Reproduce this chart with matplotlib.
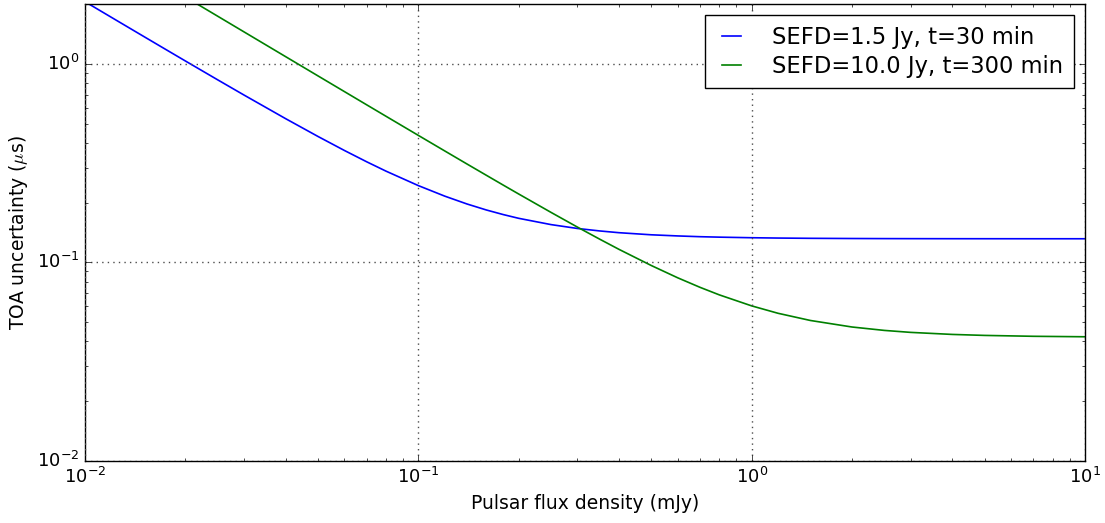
import matplotlib
matplotlib.use("Agg")
import matplotlib.pyplot as plt

plt.style.use("classic")

flux_blue = [0.01, 0.0125, 0.015, 0.0175, 0.02, 0.025, 0.03, 0.04, 0.05, 0.06, 0.07, 0.08,
             0.1, 0.12, 0.14, 0.16, 0.18, 0.2, 0.25, 0.3, 0.35, 0.4, 0.5, 0.6, 0.7, 0.8,
             1.0, 1.2, 1.5, 2.0, 2.5, 3.0, 4.0, 5.0, 7.0, 10.0]
toa_blue = [2.0542, 1.6453, 1.3730, 1.1788, 1.0334, 0.8305, 0.6959, 0.5291, 0.4306, 0.3661,
            0.3210, 0.2880, 0.2436, 0.2156, 0.1968, 0.1836, 0.1740, 0.1667, 0.1550, 0.1482,
            0.1440, 0.1411, 0.1377, 0.1359, 0.1347, 0.1340, 0.1331, 0.1326, 0.1322, 0.1319,
            0.13175, 0.13168, 0.13160, 0.13157, 0.13153, 0.13152]

flux_green = [0.02, 0.025, 0.03, 0.04, 0.05, 0.06, 0.07, 0.08, 0.1, 0.12, 0.14, 0.16, 0.18,
              0.2, 0.25, 0.3, 0.35, 0.4, 0.5, 0.6, 0.7, 0.8, 1.0, 1.2, 1.5, 2.0, 2.5, 3.0,
              4.0, 5.0, 7.0, 10.0]
toa_green = [2.1704, 1.7365, 1.4473, 1.0858, 0.8690, 0.7246, 0.6214, 0.5441, 0.4360, 0.3641,
             0.3128, 0.2745, 0.2447, 0.2210, 0.1786, 0.1506, 0.1309, 0.1163, 0.09643, 0.08364,
             0.07489, 0.06861, 0.06040, 0.05543, 0.05100, 0.04728, 0.04545, 0.04442, 0.04338,
             0.04289, 0.04245, 0.04222]

labels = ["SEFD=1.5 Jy, t=30 min", "SEFD=10.0 Jy, t=300 min"]

fig = plt.figure(figsize=(11.05, 5.23), dpi=100, facecolor="white")
ax = fig.add_axes([85/1105, 1 - 461/523, 1000/1105, 457/523])
ax.plot(flux_blue, toa_blue, color="b", lw=1.2, label=labels[0])
ax.plot(flux_green, toa_green, color="g", lw=1.2, label=labels[1])
ax.set_xscale("log")
ax.set_yscale("log")
ax.set_xlim(1e-2, 1e1)
ax.set_ylim(1e-2, 2.0)
ax.grid(True, which="major", color="0.3", linestyle=":", lw=1)
ax.tick_params(labelsize=13)
ax.set_xlabel("Pulsar flux density (mJy)", fontsize=13.5)
ax.set_ylabel(r"TOA uncertainty ($\mu$s)", fontsize=13.5)
leg = ax.legend(loc="upper right", fontsize=16.3, frameon=True, handlelength=1.45,
                handletextpad=1.1, borderpad=0.45, borderaxespad=0.5, labelspacing=0.28)
leg.get_frame().set_edgecolor("k")
fig.savefig("out.png", dpi=100, facecolor="white")
